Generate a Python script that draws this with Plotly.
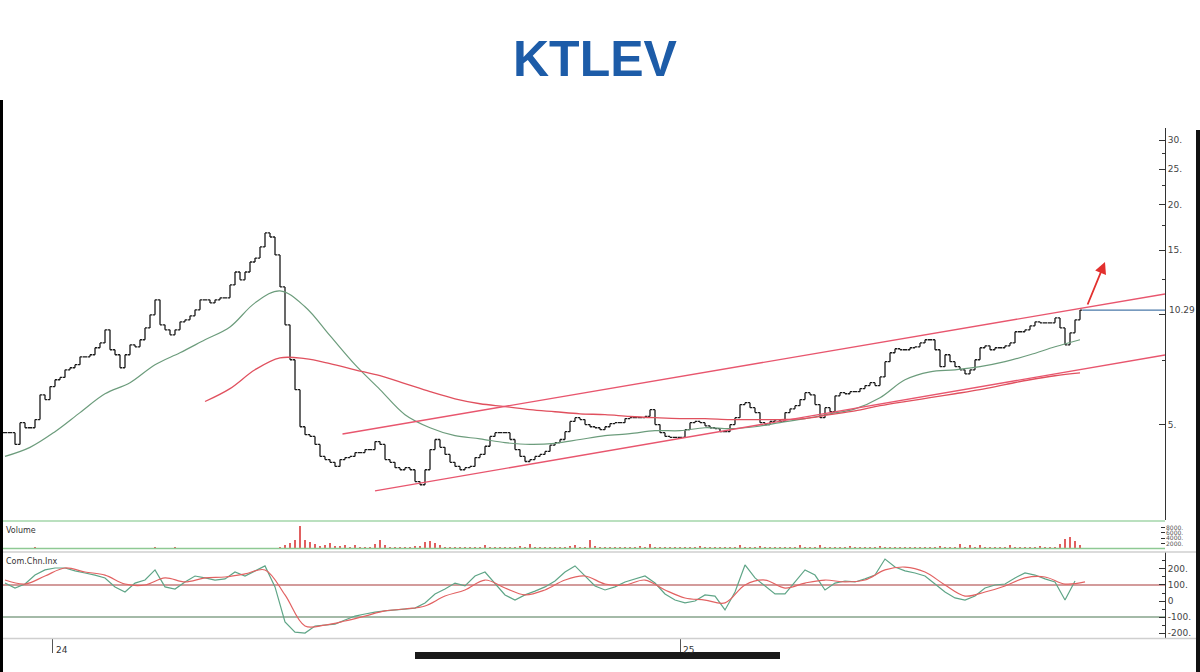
import math
import plotly.graph_objects as go

# ---------------- DATA ----------------
# closing prices, one bar every 2 sessions
close = [4.76,4.76,4.42,5.07,4.91,4.91,5.17,6.04,5.86,6.36,
         6.64,6.74,7.07,7.16,7.30,7.67,7.67,7.77,8.12,8.37,
         9.09,8.02,7.77,7.16,7.77,8.27,8.17,8.54,9.20,9.99,
         10.98,9.38,9.09,8.81,9.09,9.56,9.68,9.93,10.31,10.98,
         10.98,10.77,10.98,11.12,11.12,12.06,13.08,12.45,13.08,13.93,
         14.28,15.31,16.72,16.30,14.56,11.91,9.38,7.53,6.24,4.94,
         4.70,4.65,4.42,4.10,4.02,3.95,3.85,4.02,4.07,4.10,
         4.20,4.20,4.28,4.28,4.50,4.42,4.02,3.95,3.82,3.77,
         3.82,3.77,3.50,3.43,3.77,4.28,4.56,4.34,4.15,3.95,
         3.85,3.77,3.82,3.85,4.07,4.15,4.37,4.65,4.76,4.76,
         4.76,4.56,4.28,4.10,3.97,4.02,4.10,4.15,4.23,4.40,
         4.47,4.56,4.79,5.11,5.23,5.17,5.01,4.94,4.91,4.85,
         4.94,5.04,5.07,5.07,5.20,5.23,5.23,5.23,5.27,5.50,
         5.01,4.76,4.65,4.62,4.62,4.62,4.85,5.07,5.11,5.07,
         4.97,4.91,4.88,4.79,4.79,5.01,5.23,5.68,5.75,5.57,
         5.40,5.07,5.01,5.11,5.17,5.11,5.40,5.53,5.64,5.86,
         6.12,6.04,5.68,5.23,5.57,5.43,6.00,6.12,6.08,6.16,
         6.16,6.28,6.40,6.52,6.40,6.76,7.44,7.87,8.07,8.02,
         8.02,8.12,8.17,8.37,8.54,8.54,8.02,7.21,7.77,7.44,
         7.21,7.07,6.89,7.07,7.53,8.12,8.22,8.02,8.12,8.12,
         8.22,8.37,8.98,8.98,9.09,9.32,9.56,9.50,9.50,9.50,
         9.80,9.20,8.27,8.92,9.68,10.29]

volume = [2,2,3,2,2, 3,4,3,2,2,
          2,2,2,2,2,2,2,2,2,2,
          3,2,2,2,2,2,2,3,3,3,
          4,3,3,3,4,3,3,2,2,2,
          2,2,2,2,2,2,2,2,2,2,
          2,2,3,2,3,
          8,15,22,35,85,32,25,18,12,16,
          24,12,10,16,9,13,8,7,9,20,
          34,14,9,6,6,7,9,12,10,26,
          30,22,13,9,7,
          6,5,5,6,7,8,
          14,9,
          6,5,5,6,7,
          12,8,17,
          7,6,6,8,7,
          9,
          8,10,14,
          9,8,34,10,
          8,7,6,6,7,6,5,6,
          12,8,18,
          9,6,5,5,6,6,7,6,6,
          12,
          6,5,5,6,5,7,9,
          14,
          8,7,6,
          10,
          6,5,5,6,6,7,8,
          14,
          9,7,8,
          16,
          8,6,7,6,6,10,
          6,5,6,7,8,
          12,
          9,7,6,8,
          6,5,5,6,5,6,7,
          10,
          7,6,8,
          20,9,14,8,16,
          7,6,6,7,8,14,
          7,6,5,6,7,10,
          6,7,9,
          20,38,45,28,15]

# moving averages (green = short, red = long)
ma_short = [4.10,4.34,4.79,5.40,6.08,6.52,7.30,7.87,8.54,9.26,
            10.77,11.62,10.51,8.76,7.30,6.24,5.33,4.91,4.67,4.58,
            4.47,4.42,4.45,4.56,4.67,4.73,4.82,4.82,4.91,4.88,
            4.94,5.07,5.20,5.36,5.53,5.93,6.64,6.98,7.07,7.21,
            7.44,7.77,8.17,8.54]
ma_long = [5.79,6.28,7.07,7.62,7.58,7.35,7.07,6.81,6.48,6.16,
           5.89,5.71,5.61,5.50,5.43,5.36,5.33,5.27,5.23,5.20,
           5.20,5.17,5.17,5.17,5.20,5.33,5.46,5.64,5.79,5.93,
           6.08,6.24,6.44,6.64,6.81,6.93]

# Commodity Channel Index and its average
cci = [112,81,106,162,194,206,206,188,175,162,
       144,88,56,112,131,194,88,75,119,156,
       144,131,138,181,156,188,219,88,-131,-194,
       -200,-156,-150,-144,-119,-94,-81,-69,-62,-56,
       -50,-44,-12,44,75,112,94,156,181,106,
       38,6,38,62,88,125,181,219,156,94,
       69,88,119,138,156,112,44,6,-12,0,
       38,31,-56,56,225,144,94,44,44,119,
       194,162,69,112,125,119,138,162,262,212,
       188,175,156,106,56,19,6,31,81,100,
       106,144,175,162,138,119,6,125]
cci_avg = [131,106,156,206,181,162,106,100,144,119,
           144,150,169,194,38,-156,-150,-125,-94,-62,
           -50,-31,31,69,131,81,38,69,131,156,
           106,100,131,69,19,6,-12,100,131,81,
           112,131,119,131,194,212,181,100,31,56,
           94,144,150,106,119]

# session positions
bar_day = list(range(0, 2 * len(close), 2))
ma_short_day = list(range(0, 440, 10))
ma_long_day = list(range(80, 440, 10))
cci_day = list(range(0, 432, 4))
cci_avg_day = list(range(0, 440, 8))

# hand-drawn channel, last price line, breakout arrow
upper_channel_day = [135, 464]
upper_channel_price = [4.72, 11.39]
lower_channel_day = [148, 464]
lower_channel_price = [3.30, 7.76]
last_price_day = [431, 464]
last_price = 10.29
arrow_day = [432.8, 440.0]
arrow_price = [10.56, 13.93]

year_tick_day = [19, 270]
year_labels = ["24", "25"]
price_ticks = [5, 10, 15, 20, 25, 30]
price_tick_text = ["5.", "", "15.", "20.", "25.", "30."]
cci_ticks = [-200, -100, 0, 100, 200]
cci_tick_text = ["-200.", "-100.", "0", "100.", "200."]
vol_ticks = [20, 40, 60, 80]
vol_tick_text = ["2000.", "4000.", "6000.", "8000."]

assert len(volume) == len(close)
assert len(ma_short) == len(ma_short_day)
assert len(ma_long) == len(ma_long_day)
assert len(cci) == len(cci_day)
assert len(cci_avg) == len(cci_avg_day)

# ---------------- FIGURE ----------------
W, H = 1200, 672
def py(p):
    return 1 - p / H

open_ = [close[0]] + close[:-1]
high = [max(o, c) for o, c in zip(open_, close)]
low = [min(o, c) for o, c in zip(open_, close)]

fig = go.Figure()
fig.add_trace(go.Ohlc(x=bar_day, open=open_, high=high, low=low, close=close,
                      increasing=dict(line=dict(color="#1a1a1a", width=1.3)),
                      decreasing=dict(line=dict(color="#1a1a1a", width=1.3)),
                      tickwidth=0.45, xaxis="x", yaxis="y", showlegend=False,
                      hoverinfo="skip"))
fig.add_trace(go.Scatter(x=ma_short_day, y=ma_short, mode="lines", line_shape="spline",
                         line=dict(color="#6c9c7c", width=1.2), yaxis="y",
                         showlegend=False, hoverinfo="skip"))
fig.add_trace(go.Scatter(x=ma_long_day, y=ma_long, mode="lines", line_shape="spline",
                         line=dict(color="#e0505e", width=1.3), yaxis="y",
                         showlegend=False, hoverinfo="skip"))
for dx, dy in [(upper_channel_day, upper_channel_price),
               (lower_channel_day, lower_channel_price)]:
    fig.add_trace(go.Scatter(x=dx, y=dy, mode="lines",
                             line=dict(color="#e8566e", width=1.3), yaxis="y",
                             showlegend=False, hoverinfo="skip"))
fig.add_trace(go.Scatter(x=last_price_day, y=[last_price, last_price], mode="lines",
                         line=dict(color="#4a78a8", width=1.2), yaxis="y",
                         showlegend=False, hoverinfo="skip"))

fig.add_trace(go.Bar(x=bar_day, y=volume, marker=dict(color="#e06060", line=dict(width=0)),
                     width=0.7, yaxis="y2", showlegend=False, hoverinfo="skip"))

fig.add_trace(go.Scatter(x=cci_day, y=cci, mode="lines",
                         line=dict(color="#5fa587", width=1.2), yaxis="y3",
                         showlegend=False, hoverinfo="skip"))
fig.add_trace(go.Scatter(x=cci_avg_day, y=cci_avg, mode="lines", line_shape="spline",
                         line=dict(color="#e26262", width=1.2), yaxis="y3",
                         showlegend=False, hoverinfo="skip"))

xl, xr = 3 / W, 1165 / W
tickfont = dict(family="DejaVu Sans", size=9, color="#444")

fig.update_layout(
    width=W, height=H, autosize=False,
    margin=dict(l=0, r=0, t=0, b=0),
    paper_bgcolor="white", plot_bgcolor="white",
    showlegend=False, bargap=0,
    xaxis=dict(domain=[xl, xr], range=[-0.8, 464], anchor="y3",
               showgrid=False, zeroline=False, showline=False,
               ticks="outside", ticklen=14, tickcolor="#555", tickwidth=1,
               tickvals=year_tick_day, showticklabels=False,
               rangeslider=dict(visible=False)),
    yaxis=dict(domain=[py(520), py(128)], type="log", range=[0.439, 1.510],
               side="right", anchor="x", showline=True, linecolor="#333",
               linewidth=1, ticks="inside", ticklen=6, tickcolor="#333",
               tickvals=price_ticks, ticktext=price_tick_text, tickfont=tickfont,
               showgrid=False, zeroline=False,
               minor=dict(tickvals=[7.5, 12.5, 17.5, 22.5, 27.5], ticks="inside",
                          ticklen=3, tickcolor="#333", showgrid=False)),
    yaxis2=dict(domain=[py(549), py(522)], range=[0, 100], side="right",
                anchor="x", showline=False, ticks="inside", ticklen=4,
                tickcolor="#333", tickvals=vol_ticks, ticktext=vol_tick_text,
                tickfont=dict(family="DejaVu Sans", size=6, color="#555"),
                showgrid=False, zeroline=False),
    yaxis3=dict(domain=[py(638), py(552)], range=[-231, 306], side="right",
                anchor="x", showline=True, linecolor="#333", linewidth=1,
                ticks="inside", ticklen=6, tickcolor="#333",
                tickvals=cci_ticks, ticktext=cci_tick_text, tickfont=tickfont,
                showgrid=False, zeroline=False,
                minor=dict(tickvals=[-150, -50, 50, 150, 250], ticks="inside",
                           ticklen=3, tickcolor="#333", showgrid=False)),
)

shapes = [
    # photo borders
    dict(type="rect", xref="paper", yref="paper", x0=0, x1=3 / W, y0=0, y1=py(100),
         fillcolor="#000", line=dict(width=0), layer="above"),
    dict(type="rect", xref="paper", yref="paper", x0=1196 / W, x1=1, y0=0, y1=py(130),
         fillcolor="#111", line=dict(width=0), layer="above"),
    # panel separators
    dict(type="line", xref="paper", yref="paper", x0=xl, x1=xr, y0=py(521), y1=py(521),
         line=dict(color="#a3d6aa", width=1.5)),
    dict(type="line", xref="paper", yref="paper", x0=xl, x1=xr, y0=py(548.5), y1=py(548.5),
         line=dict(color="#8ec994", width=1.5)),
    dict(type="line", xref="paper", yref="paper", x0=xl, x1=1196 / W, y0=py(552), y1=py(552),
         line=dict(color="#cfcfcf", width=1.5)),
    dict(type="line", xref="paper", yref="paper", x0=xl, x1=1196 / W, y0=py(638.5), y1=py(638.5),
         line=dict(color="#cfcfcf", width=1.5)),
    # CCI levels
    dict(type="line", xref="paper", yref="y3", x0=xl, x1=xr, y0=100, y1=100,
         line=dict(color="#c47a7a", width=1.5), layer="below"),
    dict(type="line", xref="paper", yref="y3", x0=xl, x1=xr, y0=-100, y1=-100,
         line=dict(color="#86a38b", width=1.5), layer="below"),
    # phone home indicator
    dict(type="rect", xref="paper", yref="paper", x0=415 / W, x1=780 / W,
         y0=py(659), y1=py(652), fillcolor="#1a1a1a", line=dict(width=0), layer="above"),
]
fig.update_layout(shapes=shapes)

ann = [
    dict(text="<b>KTLEV</b>", xref="paper", yref="paper", x=595 / W, y=py(59),
         xanchor="center", yanchor="middle", showarrow=False,
         font=dict(family="Liberation Sans", size=50, color="#1d5ca8")),
    dict(text="Volume", xref="paper", yref="paper", x=4 / W, y=py(530),
         xanchor="left", yanchor="middle", showarrow=False,
         font=dict(family="DejaVu Sans", size=8, color="#333")),
    dict(text="Com.Chn.Inx", xref="paper", yref="paper", x=4 / W, y=py(561),
         xanchor="left", yanchor="middle", showarrow=False,
         font=dict(family="DejaVu Sans", size=8, color="#333")),
    dict(text=f"{last_price:.2f}", xref="paper", yref="y", x=1168 / W,
         y=math.log10(last_price), xanchor="left", yanchor="middle",
         showarrow=False, bgcolor="white", borderpad=0,
         font=dict(family="DejaVu Sans", size=9, color="#444")),
    dict(text="", xref="x", yref="y", axref="x", ayref="y",
         x=arrow_day[1], y=math.log10(arrow_price[1]),
         ax=arrow_day[0], ay=math.log10(arrow_price[0]),
         showarrow=True, arrowhead=2, arrowsize=1.3, arrowwidth=1.8,
         arrowcolor="#e2302e"),
]
for d, lab in zip(year_tick_day, year_labels):
    ann.append(dict(text=lab, xref="x", yref="paper", x=d, y=py(650),
                    xanchor="left", yanchor="middle", xshift=1, showarrow=False,
                    font=dict(family="DejaVu Sans", size=9, color="#333")))
fig.update_layout(annotations=ann)

fig.write_html("out.html", config={"displayModeBar": False},
               post_script="document.body.style.margin='0';")
